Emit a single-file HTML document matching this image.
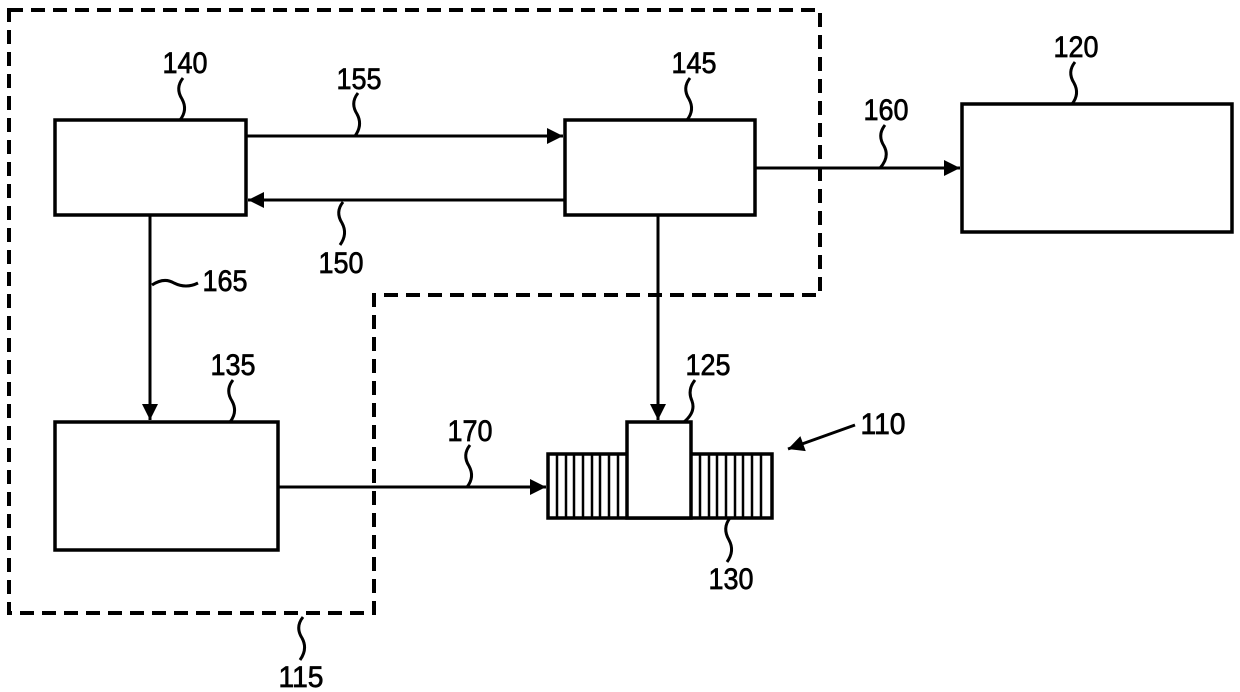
<!DOCTYPE html>
<html><head><style>body{margin:0;background:#fff}svg{display:block}text{font-family:"Liberation Sans",sans-serif;font-size:30px;fill:#000;stroke:#000;stroke-width:0.7;text-anchor:middle}</style></head><body>
<svg width="1240" height="692" viewBox="0 0 1240 692" xmlns="http://www.w3.org/2000/svg">
<defs>
<marker id="b" viewBox="0 0 10 10" markerWidth="20" markerHeight="16" refX="10" refY="5" orient="auto" markerUnits="userSpaceOnUse"><path d="M0,0L10,5L0,10z"/></marker></defs>
<g fill="none" stroke="#000">
<path d="M9,10H820V295H374V613H9Z" stroke-width="4" stroke-dasharray="14,8"/>
<g stroke-width="3.5">
<rect x="55" y="120" width="191" height="95"/>
<rect x="565" y="120" width="190" height="95"/>
<rect x="962" y="104" width="270" height="128"/>
<rect x="55" y="422" width="223" height="128"/>
<rect x="548" y="454" width="224" height="64"/>
<rect x="627" y="422" width="64" height="96" fill="#fff"/>
</g>
<g stroke-width="3">
<path d="M557,455V517M566,455V517M574,455V517M583,455V517M592,455V517M600,455V517M609,455V517M618,455V517M700,455V517M709,455V517M717,455V517M726,455V517M735,455V517M743,455V517M752,455V517M761,455V517" stroke-width="2.5"/>
<line x1="246" y1="136" x2="563" y2="136" marker-end="url(#b)"/>
<line x1="565" y1="200" x2="248" y2="200" marker-end="url(#b)"/>
<line x1="755" y1="168" x2="960" y2="168" marker-end="url(#b)"/>
<line x1="150" y1="215" x2="150" y2="420" marker-end="url(#b)"/>
<line x1="658" y1="215" x2="658" y2="420" marker-end="url(#b)"/>
<line x1="278" y1="487" x2="546" y2="487" marker-end="url(#b)"/>
<line x1="855" y1="425" x2="788" y2="449" marker-end="url(#b)"/>
<path d="M183,78q-8,10 -1,21q6,11 -2,21"/>
<path d="M358,93q-8,10 -1,21q6,11 -2,22"/>
<path d="M690,78q-8,10 -1,21q6,11 -2,21"/>
<path d="M1075,62q-8,10 -1,21q6,11 -2,21"/>
<path d="M885,125q-8,10 -1,21q6,11 -4,22"/>
<path d="M343,202q-8,10 -1,21q6,11 -2,22"/>
<path d="M152,285q12,-8 22,-2q12,6 24,0"/>
<path d="M233,380q-8,10 -1,21q6,11 -2,21"/>
<path d="M695,380q-8,10 -3,21q4,11 -8,21"/>
<path d="M730,518q-8,10 -1,22q6,11 -2,22"/>
<path d="M303,617q-8,10 -1,21q6,11 -2,22"/>
<path d="M470,445q-8,10 -1,21q6,11 -2,21"/>
</g></g>
<g>
<text x="185" y="73" textLength="45" lengthAdjust="spacingAndGlyphs">140</text>
<text x="359" y="89" textLength="45" lengthAdjust="spacingAndGlyphs">155</text>
<text x="694" y="73" textLength="45" lengthAdjust="spacingAndGlyphs">145</text>
<text x="1076" y="57" textLength="45" lengthAdjust="spacingAndGlyphs">120</text>
<text x="886" y="120" textLength="45" lengthAdjust="spacingAndGlyphs">160</text>
<text x="341" y="273" textLength="45" lengthAdjust="spacingAndGlyphs">150</text>
<text x="225" y="291" textLength="45" lengthAdjust="spacingAndGlyphs">165</text>
<text x="233" y="375" textLength="45" lengthAdjust="spacingAndGlyphs">135</text>
<text x="708" y="375" textLength="45" lengthAdjust="spacingAndGlyphs">125</text>
<text x="883" y="434" textLength="45" lengthAdjust="spacingAndGlyphs">110</text>
<text x="470" y="441" textLength="45" lengthAdjust="spacingAndGlyphs">170</text>
<text x="731" y="589" textLength="45" lengthAdjust="spacingAndGlyphs">130</text>
<text x="301" y="687" textLength="45" lengthAdjust="spacingAndGlyphs">115</text>
</g>
</svg>
</body></html>
